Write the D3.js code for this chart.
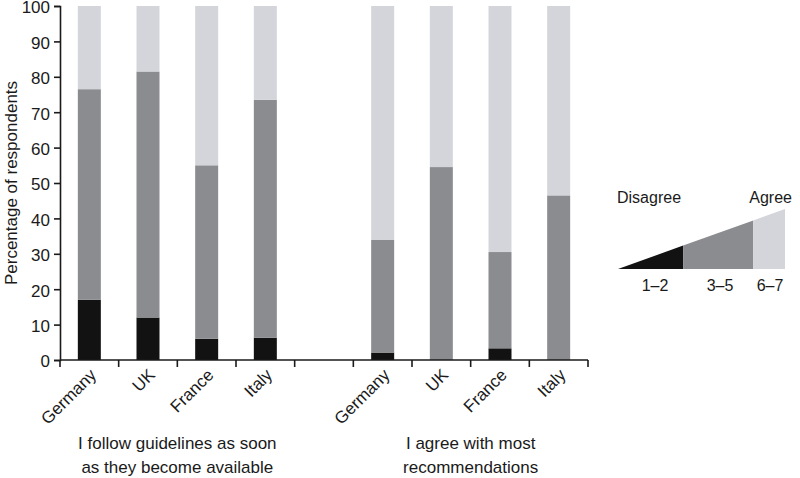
<!DOCTYPE html>
<html>
<head>
<meta charset="utf-8">
<script src="https://cdn.jsdelivr.net/npm/d3@7.9.0/dist/d3.min.js"></script>
<style>
  body { margin: 0; background: #fff; }
  svg { display: block; font-family: "Liberation Sans", Arial, sans-serif; }
  text { fill: #1a1a1a; }
</style>
</head>
<body>
<svg id="chart" width="800" height="478"></svg>
<script>
// slots along the x axis: two groups of four countries with one empty slot between
const slots = ['g1-Germany', 'g1-UK', 'g1-France', 'g1-Italy', 'gap', 'g2-Germany', 'g2-UK', 'g2-France', 'g2-Italy'];
const countries = ['Germany', 'UK', 'France', 'Italy', '', 'Germany', 'UK', 'France', 'Italy'];
const groupTitles = [
  ['I follow guidelines as soon', 'as they become available'],
  ['I agree with most', 'recommendations']
];
// percentage of respondents by score band (per slot, gap is null)
const disagree = [17, 12, 6, 6.3, null, 2.1, 0, 3.3, 0];     // 1–2
const neutral  = [59.5, 69.5, 49, 67.2, null, 31.9, 54.5, 27.2, 46.5]; // 3–5
const agree    = [23.5, 18.5, 45, 26.5, null, 66, 45.5, 69.5, 53.5];   // 6–7
const bandLabels = ['1–2', '3–5', '6–7'];
const bandColors = ['#121212', '#8b8c90', '#d3d5da'];
const yTicks = [0, 10, 20, 30, 40, 50, 60, 70, 80, 90, 100];

const svg = d3.select('#chart');
const margin = { top: 6, left: 60, bottom: 360, right: 588 };

const x = d3.scaleBand().domain(slots).range([margin.left, margin.right]).paddingInner(0).paddingOuter(0);
const y = d3.scaleLinear().domain([0, 100]).range([margin.bottom, margin.top]);
const barW = 23;

const rows = slots.map((s, i) => ({ slot: s, values: [disagree[i], neutral[i], agree[i]] }))
  .filter(d => d.values[0] !== null);

const stackData = rows.map(r => {
  let acc = 0;
  return r.values.map((v, k) => {
    const seg = { slot: r.slot, k, y0: acc, y1: acc + v };
    acc += v;
    return seg;
  });
}).flat();

svg.append('g')
  .selectAll('rect')
  .data(stackData.filter(d => d.y1 > d.y0))
  .join('rect')
  .attr('x', d => x(d.slot) + x.bandwidth() / 2 - barW / 2)
  .attr('width', barW)
  .attr('y', d => y(d.y1))
  .attr('height', d => y(d.y0) - y(d.y1))
  .attr('fill', d => bandColors[d.k]);

// y axis
const yAxis = svg.append('g')
  .attr('transform', `translate(${margin.left},0)`)
  .call(d3.axisLeft(y).tickValues(yTicks).tickSize(6).tickPadding(4));
yAxis.selectAll('text')
  .attr('font-size', 17)
  .attr('dy', '0.4em')
  .attr('font-family', 'Liberation Sans, Arial, sans-serif')
  .style('fill', '#1a1a1a');
yAxis.selectAll('line, path').attr('stroke', '#1a1a1a').attr('stroke-width', 1.6);

// x axis: ticks at slot boundaries
const boundaries = slots.map(s => x(s)).concat([x(slots[slots.length - 1]) + x.bandwidth()]);
const xg = svg.append('g');
xg.append('line')
  .attr('x1', margin.left).attr('x2', margin.right)
  .attr('y1', y(0)).attr('y2', y(0))
  .attr('stroke', '#1a1a1a').attr('stroke-width', 1.6);
xg.selectAll('line.tick')
  .data(boundaries)
  .join('line')
  .attr('class', 'tick')
  .attr('x1', d => d).attr('x2', d => d)
  .attr('y1', y(0)).attr('y2', y(0) + 7)
  .attr('stroke', '#1a1a1a').attr('stroke-width', 1.6);

xg.selectAll('text')
  .data(slots.map((s, i) => ({ s, name: countries[i] })).filter(d => d.name))
  .join('text')
  .attr('transform', d => `translate(${x(d.s) + x.bandwidth() / 2 + 8},${y(0) + 16}) rotate(-45)`)
  .attr('text-anchor', 'end')
  .attr('font-size', 17)
  .text(d => d.name);

// group titles
const groupSlots = [['g1-Germany', 'g1-Italy'], ['g2-Germany', 'g2-Italy']];
groupTitles.forEach((lines, gi) => {
  const cx = (x(groupSlots[gi][0]) + x(groupSlots[gi][1]) + x.bandwidth()) / 2;
  const t = svg.append('text').attr('text-anchor', 'middle').attr('font-size', 17);
  lines.forEach((ln, li) => {
    t.append('tspan').attr('x', cx).attr('y', 449 + li * 24).text(ln);
  });
});

// y title
svg.append('text')
  .attr('transform', `translate(17,${(y(0) + y(100)) / 2}) rotate(-90)`)
  .attr('text-anchor', 'middle')
  .attr('font-size', 17)
  .text('Percentage of respondents');

// legend wedge
const lx = d3.scaleLinear().domain([0, 1]).range([618, 785]);
const lh = d3.scaleLinear().domain([0, 1]).range([0, 60]);
const legendStops = [0, 0.39, 0.81, 1];
const baseY = 269;
const legend = svg.append('g');
legend.selectAll('path')
  .data(bandLabels.map((lab, i) => ({ lab, a: legendStops[i], b: legendStops[i + 1], i })))
  .join('path')
  .attr('d', d => `M${lx(d.a)},${baseY} L${lx(d.a)},${baseY - lh(d.a)} L${lx(d.b)},${baseY - lh(d.b)} L${lx(d.b)},${baseY} Z`)
  .attr('fill', d => bandColors[d.i]);

const labelX = [655, 720, 770];
legend.selectAll('text.band')
  .data(bandLabels)
  .join('text')
  .attr('class', 'band')
  .attr('x', (d, i) => labelX[i])
  .attr('y', 291)
  .attr('text-anchor', 'middle')
  .attr('font-size', 16)
  .text(d => d);

legend.append('text').attr('x', 617).attr('y', 203).attr('font-size', 16).text('Disagree');
legend.append('text').attr('x', 792).attr('y', 203).attr('text-anchor', 'end').attr('font-size', 16).text('Agree');
</script>
</body>
</html>
